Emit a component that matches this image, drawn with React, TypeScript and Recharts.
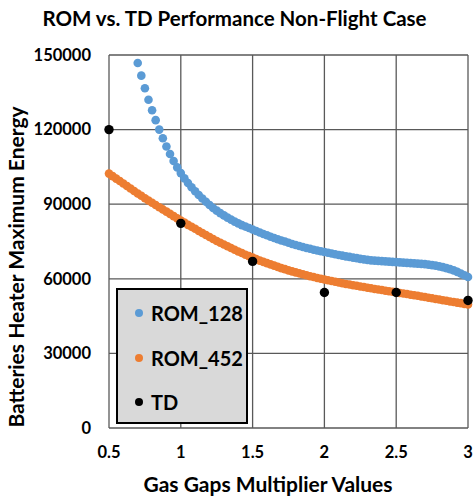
import React from 'react';
import { ScatterChart, Scatter, XAxis, YAxis, CartesianGrid } from 'recharts';

const xTicks = [0.5, 1, 1.5, 2, 2.5, 3];
const yTicks = [0, 30000, 60000, 90000, 120000, 150000];

// ROM_128 (blue), step 0.025
const rom128: [number, number][] = [
  [0.7, 146800], [0.725, 141700], [0.75, 136600], [0.775, 132000], [0.8, 127800],
  [0.825, 123800], [0.85, 120000], [0.875, 116500], [0.9, 113200], [0.925, 110200],
  [0.95, 107400], [0.975, 104800], [1.0, 102500], [1.025, 100400], [1.05, 98500],
  [1.075, 96800], [1.1, 95200], [1.125, 93700], [1.15, 92300], [1.175, 91000],
  [1.2, 89700], [1.225, 88500], [1.25, 87400], [1.275, 86400], [1.3, 85500],
  [1.325, 84600], [1.35, 83800], [1.375, 83000], [1.4, 82300], [1.425, 81600],
  [1.45, 81000], [1.475, 80400], [1.5, 79800], [1.525, 79200], [1.55, 78600],
  [1.575, 78000], [1.6, 77500], [1.625, 76900], [1.65, 76400], [1.675, 75900],
  [1.7, 75400], [1.725, 75000], [1.75, 74500], [1.775, 74000], [1.8, 73600],
  [1.825, 73200], [1.85, 72800], [1.875, 72400], [1.9, 72100], [1.925, 71700],
  [1.95, 71400], [1.975, 71100], [2.0, 70800], [2.025, 70500], [2.05, 70200],
  [2.075, 69900], [2.1, 69600], [2.125, 69300], [2.15, 69000], [2.175, 68800],
  [2.2, 68500], [2.225, 68300], [2.25, 68000], [2.275, 67800], [2.3, 67600],
  [2.325, 67400], [2.35, 67300], [2.375, 67200], [2.4, 67100], [2.425, 67000],
  [2.45, 66900], [2.475, 66800], [2.5, 66700], [2.525, 66600], [2.55, 66500],
  [2.575, 66400], [2.6, 66300], [2.625, 66200], [2.65, 66100], [2.675, 66000],
  [2.7, 65900], [2.725, 65700], [2.75, 65500], [2.775, 65300], [2.8, 65000],
  [2.825, 64700], [2.85, 64300], [2.875, 63900], [2.9, 63400], [2.925, 62800],
  [2.95, 62100], [2.975, 61400], [3.0, 60700],
];

// ROM_452 (orange)
const rom452: [number, number][] = [
  [0.5, 102300], [0.525, 101300], [0.55, 100300], [0.575, 99300], [0.6, 98300],
  [0.625, 97300], [0.65, 96300], [0.675, 95300], [0.7, 94300], [0.725, 93400],
  [0.75, 92400], [0.775, 91500], [0.8, 90600], [0.825, 89700], [0.85, 88800],
  [0.875, 87900], [0.9, 87000], [0.925, 86100], [0.95, 85200], [0.975, 84300],
  [1.0, 83400], [1.025, 82600], [1.05, 81700], [1.075, 80900], [1.1, 80100],
  [1.125, 79200], [1.15, 78400], [1.175, 77600], [1.2, 76800], [1.225, 76000],
  [1.25, 75200], [1.275, 74500], [1.3, 73800], [1.325, 73100], [1.35, 72400],
  [1.375, 71700], [1.4, 71000], [1.425, 70400], [1.45, 69700], [1.475, 69100],
  [1.5, 68500], [1.525, 67900], [1.55, 67300], [1.575, 66800], [1.6, 66300],
  [1.625, 65800], [1.65, 65300], [1.675, 64800], [1.7, 64300], [1.725, 63900],
  [1.75, 63400], [1.775, 63000], [1.8, 62600], [1.825, 62200], [1.85, 61800],
  [1.875, 61400], [1.9, 61000], [1.925, 60700], [1.95, 60300], [1.975, 60000],
  [2.0, 59700], [2.025, 59400], [2.05, 59100], [2.075, 58800], [2.1, 58500],
  [2.125, 58200], [2.15, 57900], [2.175, 57700], [2.2, 57400], [2.225, 57200],
  [2.25, 56900], [2.275, 56700], [2.3, 56400], [2.325, 56200], [2.35, 55900],
  [2.375, 55700], [2.4, 55500], [2.425, 55200], [2.45, 55000], [2.475, 54800],
  [2.5, 54600], [2.525, 54300], [2.55, 54100], [2.575, 53900], [2.6, 53600],
  [2.625, 53400], [2.65, 53200], [2.675, 52900], [2.7, 52700], [2.725, 52400],
  [2.75, 52200], [2.775, 51900], [2.8, 51700], [2.825, 51400], [2.85, 51200],
  [2.875, 50900], [2.9, 50700], [2.925, 50400], [2.95, 50200], [2.975, 49900],
  [3.0, 49700],
];

// TD reference points
const td: [number, number][] = [
  [0.5, 120000], [1, 82300], [1.5, 67000], [2, 54500], [2.5, 54500], [3, 51300],
];

const toRows = (pts: [number, number][]) => pts.map(([x, y]) => ({ x, y }));

const FONT = 'Lato, "Open Sans", sans-serif';
const BLUE = '#5b9bd5';
const ORANGE = '#ed7d31';
const GRID = '#595959';

const dot = (color: string, r: number) => (props: any) =>
  <circle cx={props.cx} cy={props.cy} r={r} fill={color} />;

const legendItems = [
  { name: 'ROM_128', color: BLUE },
  { name: 'ROM_452', color: ORANGE },
  { name: 'TD', color: '#000' },
];

export default function App() {
  return (
    <div style={{ position: 'absolute', left: 0, top: 0, width: 475, height: 498, background: '#fff', fontFamily: FONT }}>
      <div style={{ position: 'absolute', left: 0, width: 469, top: 6, textAlign: 'center', fontWeight: 700, fontSize: 20.5, color: '#000' }}>
        ROM vs. TD Performance Non-Flight Case
      </div>
      <ScatterChart width={475} height={498} margin={{ top: 55, right: 7, bottom: 0, left: 0 }}>
        <CartesianGrid stroke={GRID} strokeWidth={1.3} />
        <XAxis
          type="number"
          dataKey="x"
          domain={[0.5, 3]}
          ticks={xTicks}
          height={70}
          axisLine={false}
          tickLine={false}
          tickSize={8}
          tickMargin={10}
          tick={{ fontSize: 16.5, fontWeight: 700, fill: '#000', fontFamily: FONT }}
          label={{
            content: () => (
              <text x={268} y={492} textAnchor="middle" fontSize={21} fontWeight={700} fill="#000" fontFamily={FONT}>
                Gas Gaps Multiplier Values
              </text>
            ),
          }}
        />
        <YAxis
          type="number"
          dataKey="y"
          domain={[0, 150000]}
          ticks={yTicks}
          width={109}
          axisLine={false}
          tickLine={false}
          tickSize={8}
          tickMargin={10}
          tick={{ fontSize: 16.5, fontWeight: 700, fill: '#000', fontFamily: FONT }}
          label={{
            content: () => (
              <text x={24} y={267} transform="rotate(-90 24 267)" textAnchor="middle" fontSize={21} fontWeight={700} fill="#000" fontFamily={FONT}>
                Batteries Heater Maximum Energy
              </text>
            ),
          }}
        />
        <Scatter name="ROM_128" data={toRows(rom128)} shape={dot(BLUE, 4.3)} isAnimationActive={false} />
        <Scatter name="ROM_452" data={toRows(rom452)} shape={dot(ORANGE, 4.3)} isAnimationActive={false} />
        <Scatter name="TD" data={toRows(td)} shape={dot('#000', 4.7)} isAnimationActive={false} />
      </ScatterChart>
      <div
        style={{
          position: 'absolute', left: 116, top: 288, width: 132, height: 136, boxSizing: 'border-box',
          background: '#d9d9d9', border: '2px solid #000',
        }}
      >
        {legendItems.map((item, i) => (
          <div key={item.name} style={{ position: 'absolute', left: 17, top: 11 + i * 44.5, display: 'flex', alignItems: 'center', height: 24 }}>
            <span style={{ width: 8, height: 8, borderRadius: 4, background: item.color, display: 'inline-block' }} />
            <span style={{ marginLeft: 8, fontSize: 20, fontWeight: 700, color: '#000' }}>{item.name}</span>
          </div>
        ))}
      </div>
    </div>
  );
}
